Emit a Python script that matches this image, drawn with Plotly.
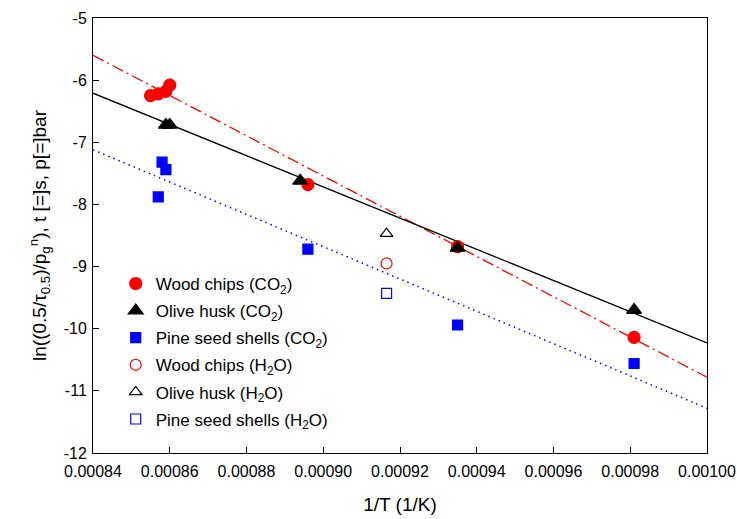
import plotly.graph_objects as go

# Data
wood_co2_x = [0.000855, 0.000857, 0.000859, 0.00086, 0.000896, 0.000935, 0.000981]
wood_co2_y = [-6.25, -6.22, -6.18, -6.08, -7.68, -8.68, -10.14]

olive_co2_x = [0.000859, 0.00086, 0.000894, 0.000935, 0.000981]
olive_co2_y = [-6.72, -6.72, -7.62, -8.70, -9.70]

pine_co2_x = [0.000857, 0.000858, 0.000859, 0.000896, 0.000935, 0.000981]
pine_co2_y = [-7.88, -7.32, -7.44, -8.72, -9.94, -10.56]

wood_h2o_x = [0.0009165]
wood_h2o_y = [-8.95]
olive_h2o_x = [0.0009165]
olive_h2o_y = [-8.47]
pine_h2o_x = [0.0009165]
pine_h2o_y = [-9.43]

fit_x = [0.00084, 0.00100]
fit_wood_y = [-5.60, -10.78]
fit_olive_y = [-6.21, -10.23]
fit_pine_y = [-7.12, -11.28]

y_ticks = [-12, -11, -10, -9, -8, -7, -6, -5]
y_tick_text = ["-12", "-11", "-10", "-9", "-8", "-7", "-6", "-5"]

fig = go.Figure()

# fit lines
fig.add_trace(go.Scatter(x=fit_x, y=fit_wood_y, mode="lines", showlegend=False,
                         line=dict(color="red", width=1.3, dash="12px,4px,2px,4px")))
fig.add_trace(go.Scatter(x=fit_x, y=fit_olive_y, mode="lines", showlegend=False,
                         line=dict(color="black", width=1.3)))
fig.add_trace(go.Scatter(x=fit_x, y=fit_pine_y, mode="lines", showlegend=False,
                         line=dict(color="blue", width=1.5, dash="1.5px,4px")))

series = [
    ("Wood chips (CO<sub>2</sub>)", wood_co2_x, wood_co2_y, "circle", "red", 12),
    ("Olive husk (CO<sub>2</sub>)", olive_co2_x, olive_co2_y, "triangle-up", "black", 13),
    ("Pine seed shells (CO<sub>2</sub>)", pine_co2_x, pine_co2_y, "square", "blue", 10),
    ("Wood chips (H<sub>2</sub>O)", wood_h2o_x, wood_h2o_y, "circle-open", "red", 11),
    ("Olive husk (H<sub>2</sub>O)", olive_h2o_x, olive_h2o_y, "triangle-up-open", "black", 11),
    ("Pine seed shells (H<sub>2</sub>O)", pine_h2o_x, pine_h2o_y, "square-open", "blue", 10),
]
for i, (name, xs, ys, sym, col, sz) in enumerate(series):
    fig.add_trace(go.Scatter(x=xs, y=ys, mode="markers", name=name, legendgroup=str(i),
                             marker=dict(symbol=sym, color=col, size=sz,
                                         line=dict(color=col, width=1.2))))

font = "Liberation Sans, Arial, sans-serif"
fig.update_layout(
    width=737, height=519,
    margin=dict(l=93, r=30, t=18, b=66),
    paper_bgcolor="white", plot_bgcolor="white",
    font=dict(family=font, size=16, color="black"),
    legend=dict(x=0.037, y=0.43, xanchor="left", yanchor="top",
                bgcolor="rgba(0,0,0,0)", font=dict(size=17),
                traceorder="grouped", tracegroupgap=2),
    xaxis=dict(range=[0.00084, 0.00100], dtick=0.00002, tick0=0.00084, tickformat=".5f",
               showgrid=False, zeroline=False, showline=True, linecolor="black",
               linewidth=1, mirror=True, ticks="inside", ticklen=6, tickcolor="black",
               ticklabelstandoff=4, automargin=False,
               title=dict(text="1/T (1/K)", font=dict(size=19), standoff=18)),
    yaxis=dict(range=[-12, -5], tickvals=y_ticks, ticktext=y_tick_text,
               showgrid=False, zeroline=False, automargin=False,
               showline=True, linecolor="black", linewidth=1, mirror=True,
               ticks="inside", ticklen=6, tickcolor="black", ticklabelstandoff=2,
               title=dict(text="ln((0.5/τ<sub>0.5</sub>)/p<sub>g</sub><sup>n</sup>), t [=]s, p[=]bar",
                          font=dict(size=19), standoff=12)),
)

fig.write_html("out.html")
